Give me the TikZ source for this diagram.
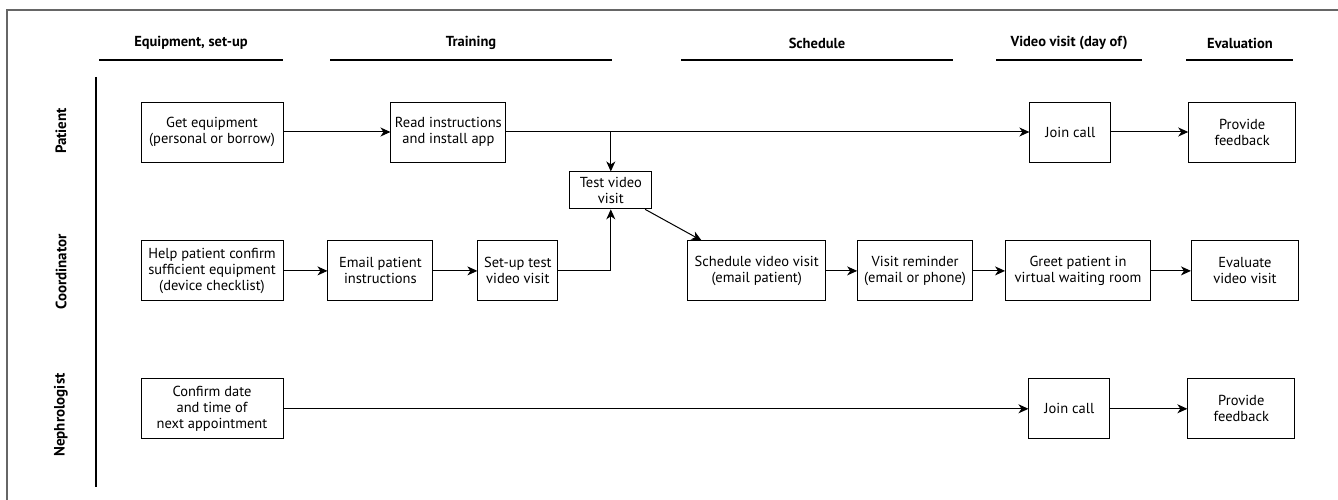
\documentclass[tikz,border=0pt]{standalone}
\usepackage{fontspec}
\setmainfont{PT Sans}
\usetikzlibrary{positioning,calc,arrows.meta}

\begin{document}
\begin{tikzpicture}[
    box/.style={draw, line width=0.9pt, align=center, minimum height=60pt,
      inner xsep=1pt, font=\fontsize{14.5}{16}\selectfont},
    arr/.style={-{Stealth[length=10pt,width=9pt,inset=3pt]}, line width=1pt},
    head/.style={font=\bfseries\fontsize{14.5}{16}\selectfont},
    lane/.style={font=\bfseries\fontsize{15}{16}\selectfont, rotate=90},
    rule/.style={line width=2.2pt},
  ]
  \useasboundingbox (0,0) rectangle (1338pt,-500pt);
  %% outer frame and lane rule
  \draw[line width=2pt, black!60] (1338pt,-10pt) -- (7pt,-10pt) -- (7pt,-500pt);
  \draw[rule] (96pt,-77pt) -- (96pt,-487pt);

  %% phase headings
  \node[head] (hEquip) at (191pt,-43pt) {Equipment, set-up};
  \node[head] (hTrain) at (471pt,-43pt) {Training};
  \node[head] (hSched) at (817pt,-43pt) {Schedule};
  \node[head] (hVisit) at (1069pt,-43pt) {Video visit (day of)};
  \node[head] (hEval) at (1240pt,-43pt) {Evaluation};
  \draw[rule] (99pt,-60pt) -- (283pt,-60pt);
  \draw[rule] (330pt,-60pt) -- (612pt,-60pt);
  \draw[rule] (681pt,-60pt) -- (953pt,-60pt);
  \draw[rule] (996pt,-60pt) -- (1142pt,-60pt);
  \draw[rule] (1186pt,-60pt) -- (1293pt,-60pt);

  %% lanes
  \node[lane] (lPat) at (61pt,-131pt) {Patient};
  \node[lane] (lCoord) at (61pt,-272pt) {Coordinator};
  \node[lane] (lNeph) at (61pt,-415pt) {Nephrologist};

  %% patient
  \node[box, minimum width=142pt] (getEq) at (212pt,-132pt) {Get equipment\\(personal or borrow)};
  \node[box, minimum width=115pt, right=107pt of getEq] (readIns) {Read instructions\\and install app};
  \node[box, minimum width=81pt, right=523pt of readIns] (joinP) {Join call};
  \node[box, minimum width=107pt, right=77pt of joinP] (feedP) {Provide\\feedback};
  \node[box, minimum width=82pt, minimum height=37pt, below right=9pt and 63pt of readIns] (testVid) {Test video\\visit};

  %% coordinator
  \node[box, minimum width=142pt, below=78pt of getEq] (helpPat) {Help patient confirm\\sufficient equipment\\(device checklist)};
  \node[box, minimum width=105pt, right=44pt of helpPat] (emailPat) {Email patient\\instructions};
  \node[box, minimum width=80pt, right=44pt of emailPat] (setupTest) {Set-up test\\video visit};
  \node[box, minimum width=138pt, right=129pt of setupTest] (sched) {Schedule video visit\\(email patient)};
  \node[box, minimum width=115pt, right=31pt of sched] (remind) {Visit reminder\\(email or phone)};
  \node[box, minimum width=145pt, right=32pt of remind] (greet) {Greet patient in\\virtual waiting room};
  \node[box, minimum width=107pt, right=40pt of greet] (evalV) {Evaluate\\video visit};

  %% nephrologist
  \node[box, minimum width=142pt, below=77pt of helpPat] (confirm) {Confirm date\\and time of\\next appointment};
  \node[box, minimum width=81pt, right=745pt of confirm] (joinN) {Join call};
  \node[box, minimum width=107pt, right=77pt of joinN] (feedN) {Provide\\feedback};

  %% flow
  \coordinate (split) at (readIns.east -| testVid);
  \draw[arr] (getEq) -- (readIns);
  \draw[arr] (readIns) -- (joinP);
  \draw[arr] (split) -- (testVid);
  \draw[arr] (joinP) -- (feedP);
  \draw[arr] (helpPat) -- (emailPat);
  \draw[arr] (emailPat) -- (setupTest);
  \draw[arr] (setupTest) -| (testVid);
  \draw[arr] (testVid) -- (sched);
  \draw[arr] (sched) -- (remind);
  \draw[arr] (remind) -- (greet);
  \draw[arr] (greet) -- (evalV);
  \draw[arr] (confirm) -- (joinN);
  \draw[arr] (joinN) -- (feedN);
\end{tikzpicture}
\end{document}
